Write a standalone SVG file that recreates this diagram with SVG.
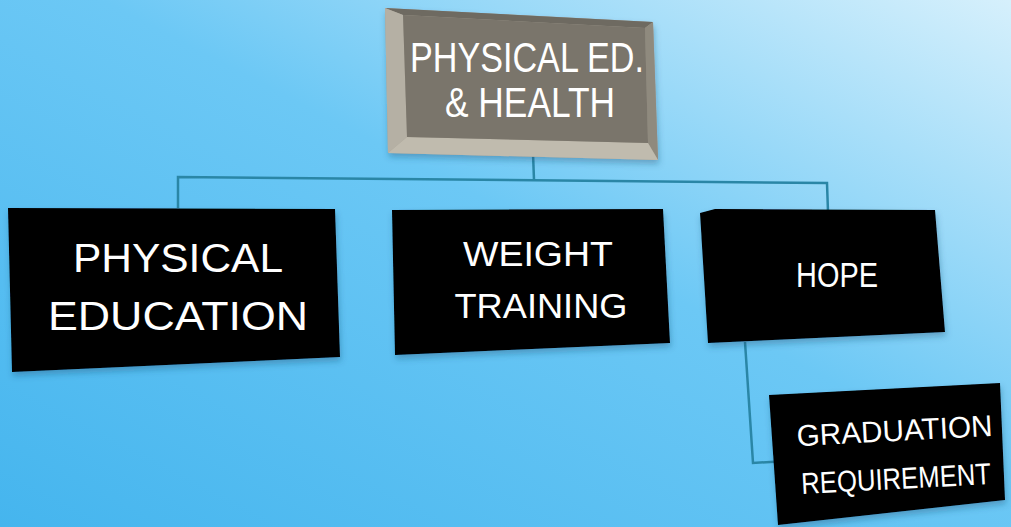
<svg xmlns="http://www.w3.org/2000/svg" width="1011" height="527" viewBox="0 0 1011 527">
<defs>
<linearGradient id="bg" x1="0" y1="1" x2="1" y2="0">
<stop offset="0" stop-color="#45b5ee"/>
<stop offset="0.55" stop-color="#6cc8f5"/>
<stop offset="1" stop-color="#d6f0fc"/>
</linearGradient>
<filter id="sh" x="-10%" y="-10%" width="120%" height="130%">
<feDropShadow dx="1" dy="4" stdDeviation="3" flood-color="#1a4a6a" flood-opacity="0.35"/>
</filter>
<style>
.box{fill:#000;filter:url(#sh)}
.lbl{fill:#fff;font-family:"Liberation Sans","DejaVu Sans",sans-serif;text-anchor:middle}
.con{fill:none;stroke:#2a86a6;stroke-width:2.5}
</style>
</defs>
<rect width="1011" height="527" fill="url(#bg)"/>
<g id="connectors">
<path class="con" d="M533,153 L534,180"/>
<path class="con" d="M178,208 L178,177 L827,183 L828,212"/>
<path class="con" d="M745,342 L753,463 L787,461"/>
</g>
<g id="top">
<polygon points="385,8 653,22 658,160 388,153" fill="#a39e92" filter="url(#sh)"/>
<polygon points="385,8 653,22 645,28 403,15" fill="#6e6a61"/>
<polygon points="385,8 403,15 407,137 388,153" fill="#b5b0a4"/>
<polygon points="653,22 658,160 648,143 645,28" fill="#8f8a7e"/>
<polygon points="388,153 407,137 648,143 658,160" fill="#c0bbae"/>
<polygon points="403,15 645,28 648,143 407,137" fill="#7a756b"/>
<text class="lbl" x="527" y="72" font-size="43" textLength="234" lengthAdjust="spacingAndGlyphs">PHYSICAL ED.</text>
<text class="lbl" x="530" y="117" font-size="43" textLength="170" lengthAdjust="spacingAndGlyphs">&amp; HEALTH</text>
</g>
<g id="pe">
<polygon class="box" points="8,208 335,209 340,357 12,372"/>
<text class="lbl" x="178" y="272" font-size="40" textLength="210" lengthAdjust="spacingAndGlyphs">PHYSICAL</text>
<text class="lbl" x="178" y="330" font-size="40" textLength="260" lengthAdjust="spacingAndGlyphs">EDUCATION</text>
</g>
<g id="wt">
<polygon class="box" points="392,210 663,209 670,343 395,355"/>
<text class="lbl" x="538" y="266" font-size="35" textLength="150" lengthAdjust="spacingAndGlyphs">WEIGHT</text>
<text class="lbl" x="541" y="318" font-size="35" textLength="173" lengthAdjust="spacingAndGlyphs">TRAINING</text>
</g>
<g id="hope">
<polygon class="box" points="700,213 715,209 935,210 945,332 708,343"/>
<text class="lbl" x="837" y="287" font-size="35" textLength="82" lengthAdjust="spacingAndGlyphs">HOPE</text>
</g>
<g id="grad">
<polygon class="box" points="769,395 1000,383 1005,500 778,525"/>
<g transform="rotate(-3 896 458)">
<text class="lbl" x="896" y="441" font-size="30" textLength="196" lengthAdjust="spacingAndGlyphs">GRADUATION</text>
<text class="lbl" x="895" y="489" font-size="30" textLength="190" lengthAdjust="spacingAndGlyphs">REQUIREMENT</text>
</g>
</g>
</svg>
